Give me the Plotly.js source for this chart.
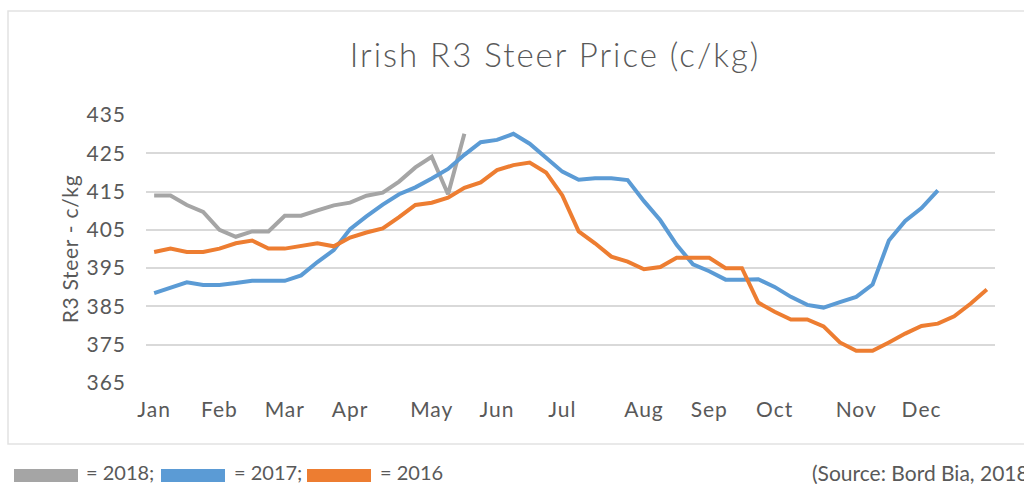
<!DOCTYPE html>
<html>
<head>
<meta charset="utf-8">
<script src="https://cdn.plot.ly/plotly-3.0.1.min.js"></script>
<style>
  html, body { margin: 0; padding: 0; background: #ffffff; }
  #chart { width: 1024px; height: 484px; }
  #chart .gtitle { letter-spacing: 2px; }
  #chart .xtick text, #chart .ytick text { letter-spacing: 1px; }
  #chart .ytitle { letter-spacing: 0.7px; }
</style>
</head>
<body>
<div id="chart"></div>
<script>
// Week index (1..52) on the category axis
var weeks = [];
for (var w = 1; w <= 52; w++) weeks.push(w);

var monthTickWeeks = [1, 5, 9, 13, 18, 22, 26, 31, 35, 39, 44, 48];
var monthLabels = ["Jan", "Feb", "Mar", "Apr", "May", "Jun", "Jul", "Aug", "Sep", "Oct", "Nov", "Dec"];

var price2018 = [414.0, 414.0, 411.5, 409.7, 405.0, 403.2, 404.6, 404.6, 408.7, 408.7,
                 410.1, 411.4, 412.1, 413.9, 414.7, 417.6, 421.3, 424.1, 414.3, 430.1];

var price2017 = [388.5, 389.8, 391.3, 390.6, 390.6, 391.1, 391.7, 391.7, 391.7, 393.1,
                 396.6, 399.7, 405.2, 408.5, 411.6, 414.3, 416.1, 418.4, 420.9, 424.6,
                 427.9, 428.5, 430.1, 427.5, 423.8, 420.2, 418.1, 418.5, 418.5, 418.0,
                 412.5, 407.5, 401.1, 396.0, 394.2, 392.0, 392.0, 392.1, 390.1, 387.5,
                 385.4, 384.7, 386.1, 387.5, 390.7, 402.2, 407.3, 410.7, 415.3];

var price2016 = [399.2, 400.1, 399.2, 399.2, 400.1, 401.5, 402.2, 400.1, 400.1, 400.7,
                 401.5, 400.7, 403.0, 404.3, 405.4, 408.3, 411.5, 412.1, 413.4, 416.0,
                 417.4, 420.6, 421.9, 422.6, 420.0, 414.0, 404.6, 401.5, 398.0, 396.7,
                 394.7, 395.3, 397.7, 397.7, 397.7, 395.0, 395.0, 386.0, 383.6, 381.6,
                 381.6, 379.8, 375.6, 373.4, 373.4, 375.6, 377.9, 379.9, 380.5, 382.4,
                 385.7, 389.4];

var seriesNames = ["2018", "2017", "2016"];
var seriesColors = ["#A5A5A5", "#5B9BD5", "#ED7D31"];
var seriesValues = [price2018, price2017, price2016];
var legendTexts = ["= 2018;", "= 2017;", "= 2016"];
var sourceText = "(Source: Bord Bia, 2018)";

var TEXT = "#595959";
var FONT = "Lato, 'Open Sans', sans-serif";

// plot area in pixels
var W = 1024, H = 484;
var M = { l: 146, r: 29, t: 115, b: 101 };
var plotW = W - M.l - M.r, plotH = H - M.t - M.b;
function px(x) { return (x - M.l) / plotW; }
function py(y) { return (H - M.b - y) / plotH; }

var traces = seriesValues.map(function (vals, k) {
  return {
    x: weeks.slice(0, vals.length),
    y: vals,
    type: "scatter",
    mode: "lines",
    name: seriesNames[k],
    line: { color: seriesColors[k], width: 4, shape: "linear" },
    showlegend: false,
    hoverinfo: "x+y"
  };
});

var shapes = [
  { type: "rect", xref: "paper", yref: "paper",
    x0: px(8), x1: px(1034), y0: py(444), y1: py(11),
    line: { color: "#e2e2e2", width: 1.5 }, fillcolor: "rgba(0,0,0,0)", layer: "below" }
];
var annotations = [];
var legendRectX = [14, 161, 307];
var legendTextX = [84, 232, 378];
for (var i = 0; i < 3; i++) {
  shapes.push({ type: "rect", xref: "paper", yref: "paper",
    x0: px(legendRectX[i]), x1: px(legendRectX[i] + 64), y0: py(482), y1: py(469),
    line: { width: 0 }, fillcolor: seriesColors[i] });
  annotations.push({ xref: "paper", yref: "paper", x: px(legendTextX[i]), y: py(472),
    xanchor: "left", yanchor: "middle", showarrow: false, text: legendTexts[i],
    font: { family: FONT, size: 20, color: TEXT } });
}
annotations.push({ xref: "paper", yref: "paper", x: px(810), y: py(472),
  xanchor: "left", yanchor: "middle", showarrow: false, text: sourceText,
  font: { family: FONT, size: 21, color: TEXT } });

var layout = {
  width: W, height: H,
  margin: M,
  paper_bgcolor: "#ffffff",
  plot_bgcolor: "#ffffff",
  title: {
    text: "Irish R3 Steer Price (c/kg)",
    font: { family: FONT, size: 33, color: TEXT, weight: 300 },
    xref: "container", yref: "container",
    x: 555 / W, y: 1 - 55 / H, xanchor: "center", yanchor: "middle"
  },
  xaxis: {
    range: [0.5, 52.5],
    tickmode: "array",
    tickvals: monthTickWeeks,
    ticktext: monthLabels,
    showgrid: false, zeroline: false, showline: false, ticks: "",
    tickfont: { family: FONT, size: 21, color: TEXT },
    ticklabelstandoff: 12
  },
  yaxis: {
    range: [365, 435],
    tick0: 365, dtick: 10,
    showgrid: true, gridcolor: "#d9d9d9", gridwidth: 2,
    zeroline: false, showline: false, ticks: "",
    tickfont: { family: FONT, size: 21, color: TEXT },
    ticklabelstandoff: 19,
    title: { text: "R3 Steer - c/kg", font: { family: FONT, size: 21, color: TEXT }, standoff: 5 }
  },
  shapes: shapes,
  annotations: annotations,
  showlegend: false
};

Plotly.newPlot("chart", traces, layout, { displayModeBar: false, staticPlot: true });
</script>
</body>
</html>
